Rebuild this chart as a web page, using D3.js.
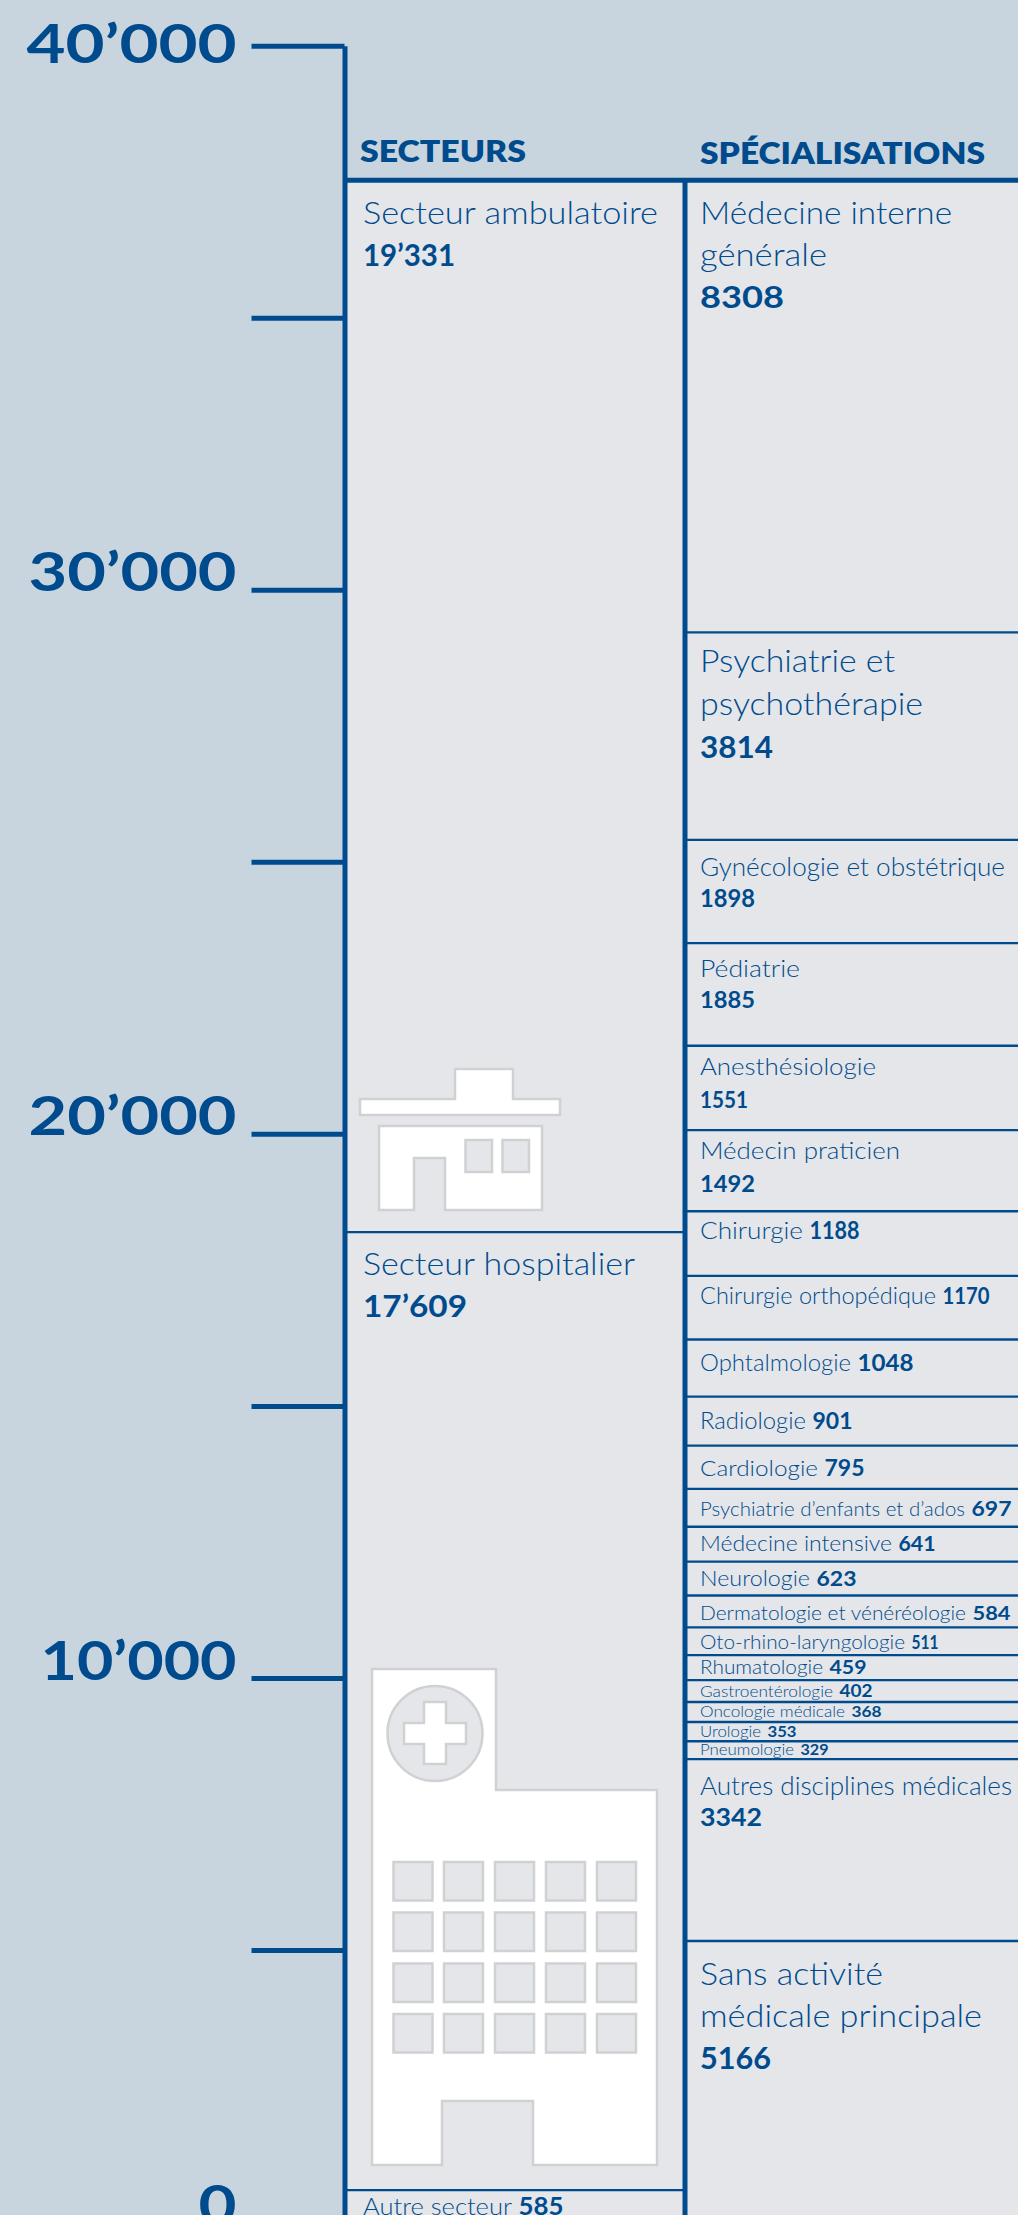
<!DOCTYPE html>
<html lang="fr">
<head>
<meta charset="utf-8">
<script src="https://cdn.jsdelivr.net/npm/d3@7"></script>
<style>
	html, body { margin: 0; padding: 0; background: #c8d5de; overflow: hidden; }
	svg { display: block; font-family: Lato, sans-serif; }
	text { fill: #004b8d; font-weight: 300; }
	.num { font-weight: 700; }
	.tick text { font-weight: 700; }
	.head { font-weight: 800; }
</style>
</head>
<body>
<div id="chart"></div>
<script>
// values, top to bottom, as printed on the chart
const sectorNames  = ["Secteur ambulatoire", "Secteur hospitalier", "Autre secteur"];
const sectorValues = [19331, 17609, 585];

const specNames = [
	"Médecine interne|générale", "Psychiatrie et|psychothérapie", "Gynécologie et obstétrique",
	"Pédiatrie", "Anesthésiologie", "Médecin praticien", "Chirurgie", "Chirurgie orthopédique",
	"Ophtalmologie", "Radiologie", "Cardiologie", "Psychiatrie d’enfants et d’ados",
	"Médecine intensive", "Neurologie", "Dermatologie et vénéréologie", "Oto-rhino-laryngologie",
	"Rhumatologie", "Gastroentérologie", "Oncologie médicale", "Urologie", "Pneumologie",
	"Autres disciplines médicales", "Sans activité|médicale principale"
];
const specValues = [8308, 3814, 1898, 1885, 1551, 1492, 1188, 1170, 1048, 901, 795, 697, 641, 623, 584, 511, 459, 402, 368, 353, 329, 3342, 5166];

const axisTicks = [0, 5000, 10000, 15000, 20000, 25000, 30000, 35000, 40000];
const headers   = ["SECTEURS", "SPÉCIALISATIONS"];

// text style of a label: [font size, first baseline, line step, value on own line]
const sectorStyle = [[31, 44, 42, true], [31, 43, 42, true], [24, 25, 0, false]];
const specStyle = [
	[31, 44, 42, true], [31, 40, 43, true], [25, 36, 31, true], [23, 34, 31, true], [23, 29, 33, true], [23, 29, 33, true],
	[24, 28, 0, false], [23.5, 28, 0, false], [23, 31, 0, false], [23, 32, 0, false], [22, 30, 0, false], [20.5, 27, 0, false],
	[21, 24, 0, false], [21, 24, 0, false], [19.5, 24, 0, false], [19.5, 22, 0, false], [19.5, 19, 0, false],
	[16.5, 17, 0, false], [15.5, 15, 0, false], [15, 15, 0, false], [15, 14, 0, false],
	[25, 36, 31, true], [31, 44, 42, true]
];

// drawn widths of the name lines and of the value, the original face is wider than Lato
const sectorWidths = [[295, 92], [272, 104], [149, 45]];
const specWidths = [
	[252, 127, 84], [195, 223, 73], [305, 55], [100, 55], [176, 48], [200, 55],
	[103, 50], [236, 47], [151, 56], [106, 40], [118, 40], [265, 40],
	[192, 37], [110, 40], [266, 38], [205, 27], [123, 37],
	[133, 33], [145, 30], [61, 29], [94, 28],
	[312, 62], [183, 282, 71]
];
const headerWidths = [166, 285];
const tickWidths = { 0: 38, 10000: 196, 20000: 208, 30000: 208, 40000: 210 };

const width = 1018, height = 2215;
const colLeft = 344.5, colMid = 685;
const textLeft = 363, textMid = 700;
const blue = "#004b8d", panel = "#e4e6e9", iconLine = "#cfd1d3";

const y = d3.scaleLinear([0, 40000], [2222, 45.7]);

const svg = d3.select("#chart").append("svg")
	.attr("width", width).attr("height", height);

// stack a column from the bottom up, list order is top-down
function stack(names, values, styles, widths) {
	let below = d3.cumsum(values.slice().reverse()).reverse();
	return names.map((name, i) => ({ name, value: values[i], top: below[i], style: styles[i], widths: widths[i] }));
}

const sectors = stack(sectorNames, sectorValues, sectorStyle, sectorWidths);
const specs   = stack(specNames, specValues, specStyle, specWidths);
const total   = d3.sum(sectorValues);

function fit(sel, w) {
	sel.attr("textLength", w).attr("lengthAdjust", "spacingAndGlyphs");
}

// panels
svg.append("rect").attr("x", colLeft).attr("y", y(total))
	.attr("width", width - colLeft).attr("height", height - y(total)).attr("fill", panel);

drawIcons();

function drawLabels(data, x) {
	let groups = svg.append("g").selectAll("text").data(data).join("text")
		.attr("font-size", d => d.style[0]);

	groups.each(function(d) {
		let el = d3.select(this),
			lines = d.name.split("|"),
			base = y(d.top) + d.style[1],
			valueW = d.widths[lines.length];

		lines.forEach((line, i) => {
			fit(el.append("tspan").attr("x", x).attr("y", base + i * d.style[2]).text(line), d.widths[i]);
		});
		let num = el.append("tspan").classed("num", true).text(fmt(d.value));
		if (d.style[3]) {
			num.attr("x", x).attr("y", base + lines.length * d.style[2]);
		} else {
			num.attr("x", x + d.widths[0] + 6.5).attr("y", base);
		}
		fit(num, valueW);
	});
}

function fmt(v) {
	return v >= 10000 ? d3.format("d")(Math.floor(v / 1000)) + "’" + d3.format("03d")(v % 1000) : String(v);
}

drawLabels(sectors, textLeft);
drawLabels(specs, textMid);

// separators go over the text, tiny bands overlap in the original
svg.append("g").selectAll("line").data(specs.slice(1)).join("line")
	.attr("x1", colMid).attr("x2", width)
	.attr("y1", d => y(d.top)).attr("y2", d => y(d.top))
	.attr("stroke", blue).attr("stroke-width", 2.4);

svg.append("g").selectAll("line").data(sectors.slice(1)).join("line")
	.attr("x1", colLeft).attr("x2", colMid)
	.attr("y1", d => y(d.top)).attr("y2", d => y(d.top))
	.attr("stroke", blue).attr("stroke-width", 2.4);

// column rules
svg.append("line").attr("x1", colLeft).attr("x2", width)
	.attr("y1", y(total)).attr("y2", y(total))
	.attr("stroke", blue).attr("stroke-width", 5);
svg.append("line").attr("x1", colMid).attr("x2", colMid)
	.attr("y1", y(total)).attr("y2", height)
	.attr("stroke", blue).attr("stroke-width", 5);

// axis
const axis = d3.axisLeft(y).tickValues(axisTicks).tickSize(93).tickSizeOuter(0).tickPadding(15)
	.tickFormat(d => d % 10000 ? "" : (d ? d / 1000 + "’000" : "0"));

const axisG = svg.append("g").attr("transform", `translate(${colLeft}, 0)`).call(axis);
axisG.select(".domain").attr("stroke", blue).attr("stroke-width", 5).attr("stroke-linejoin", "miter");
axisG.selectAll(".tick line").attr("stroke", blue).attr("stroke-width", 5);
axisG.selectAll(".tick text")
	.attr("font-family", "Lato, sans-serif").attr("font-size", 53)
	.style("fill", blue)
	.attr("dy", "0.36em")
	.attr("y", d => d === 40000 ? -2 : -18)
	.each(function(d) {
		if (tickWidths[d]) fit(d3.select(this), tickWidths[d]);
	});

// column headers
svg.append("g").selectAll("text").data(headers).join("text")
	.classed("head", true)
	.attr("x", (d, i) => i ? textMid : 360)
	.attr("y", (d, i) => i ? 164 : 162)
	.attr("font-size", 31)
	.text(d => d)
	.each(function(d, i) { fit(d3.select(this), headerWidths[i]); });

function drawIcons() {
	let g = svg.append("g").attr("stroke", iconLine).attr("stroke-width", 2.5).attr("fill", "#fff");

	// practice building
	g.append("path").attr("d", "M360,1099H455V1069H513V1099H560V1115H360Z");
	g.append("path").attr("d", "M379,1126H542V1210H445V1158H414V1210H379Z");
	g.selectAll("rect.win").data([465.5, 502.5]).join("rect").classed("win", true)
		.attr("x", d => d).attr("y", 1140).attr("width", 26.5).attr("height", 32).attr("fill", panel);

	// hospital
	g.append("path").attr("d", "M372,1669H496V1790H657V2165H533V2101H442V2165H372Z");
	g.append("circle").attr("cx", 435).attr("cy", 1733.5).attr("r", 47.5).attr("fill", panel);
	g.append("path").attr("d", "M424,1702H446V1723H466V1744H446V1764H424V1744H404V1723H424Z");
	let rows = [1862, 1912.5, 1963.5, 2014], cols = [393.5, 444, 495, 546, 597];
	rows.forEach(r => cols.forEach(c => {
		g.append("rect").attr("x", c).attr("y", r).attr("width", 39).attr("height", 38.5).attr("fill", panel);
	}));
}
</script>
</body>
</html>
